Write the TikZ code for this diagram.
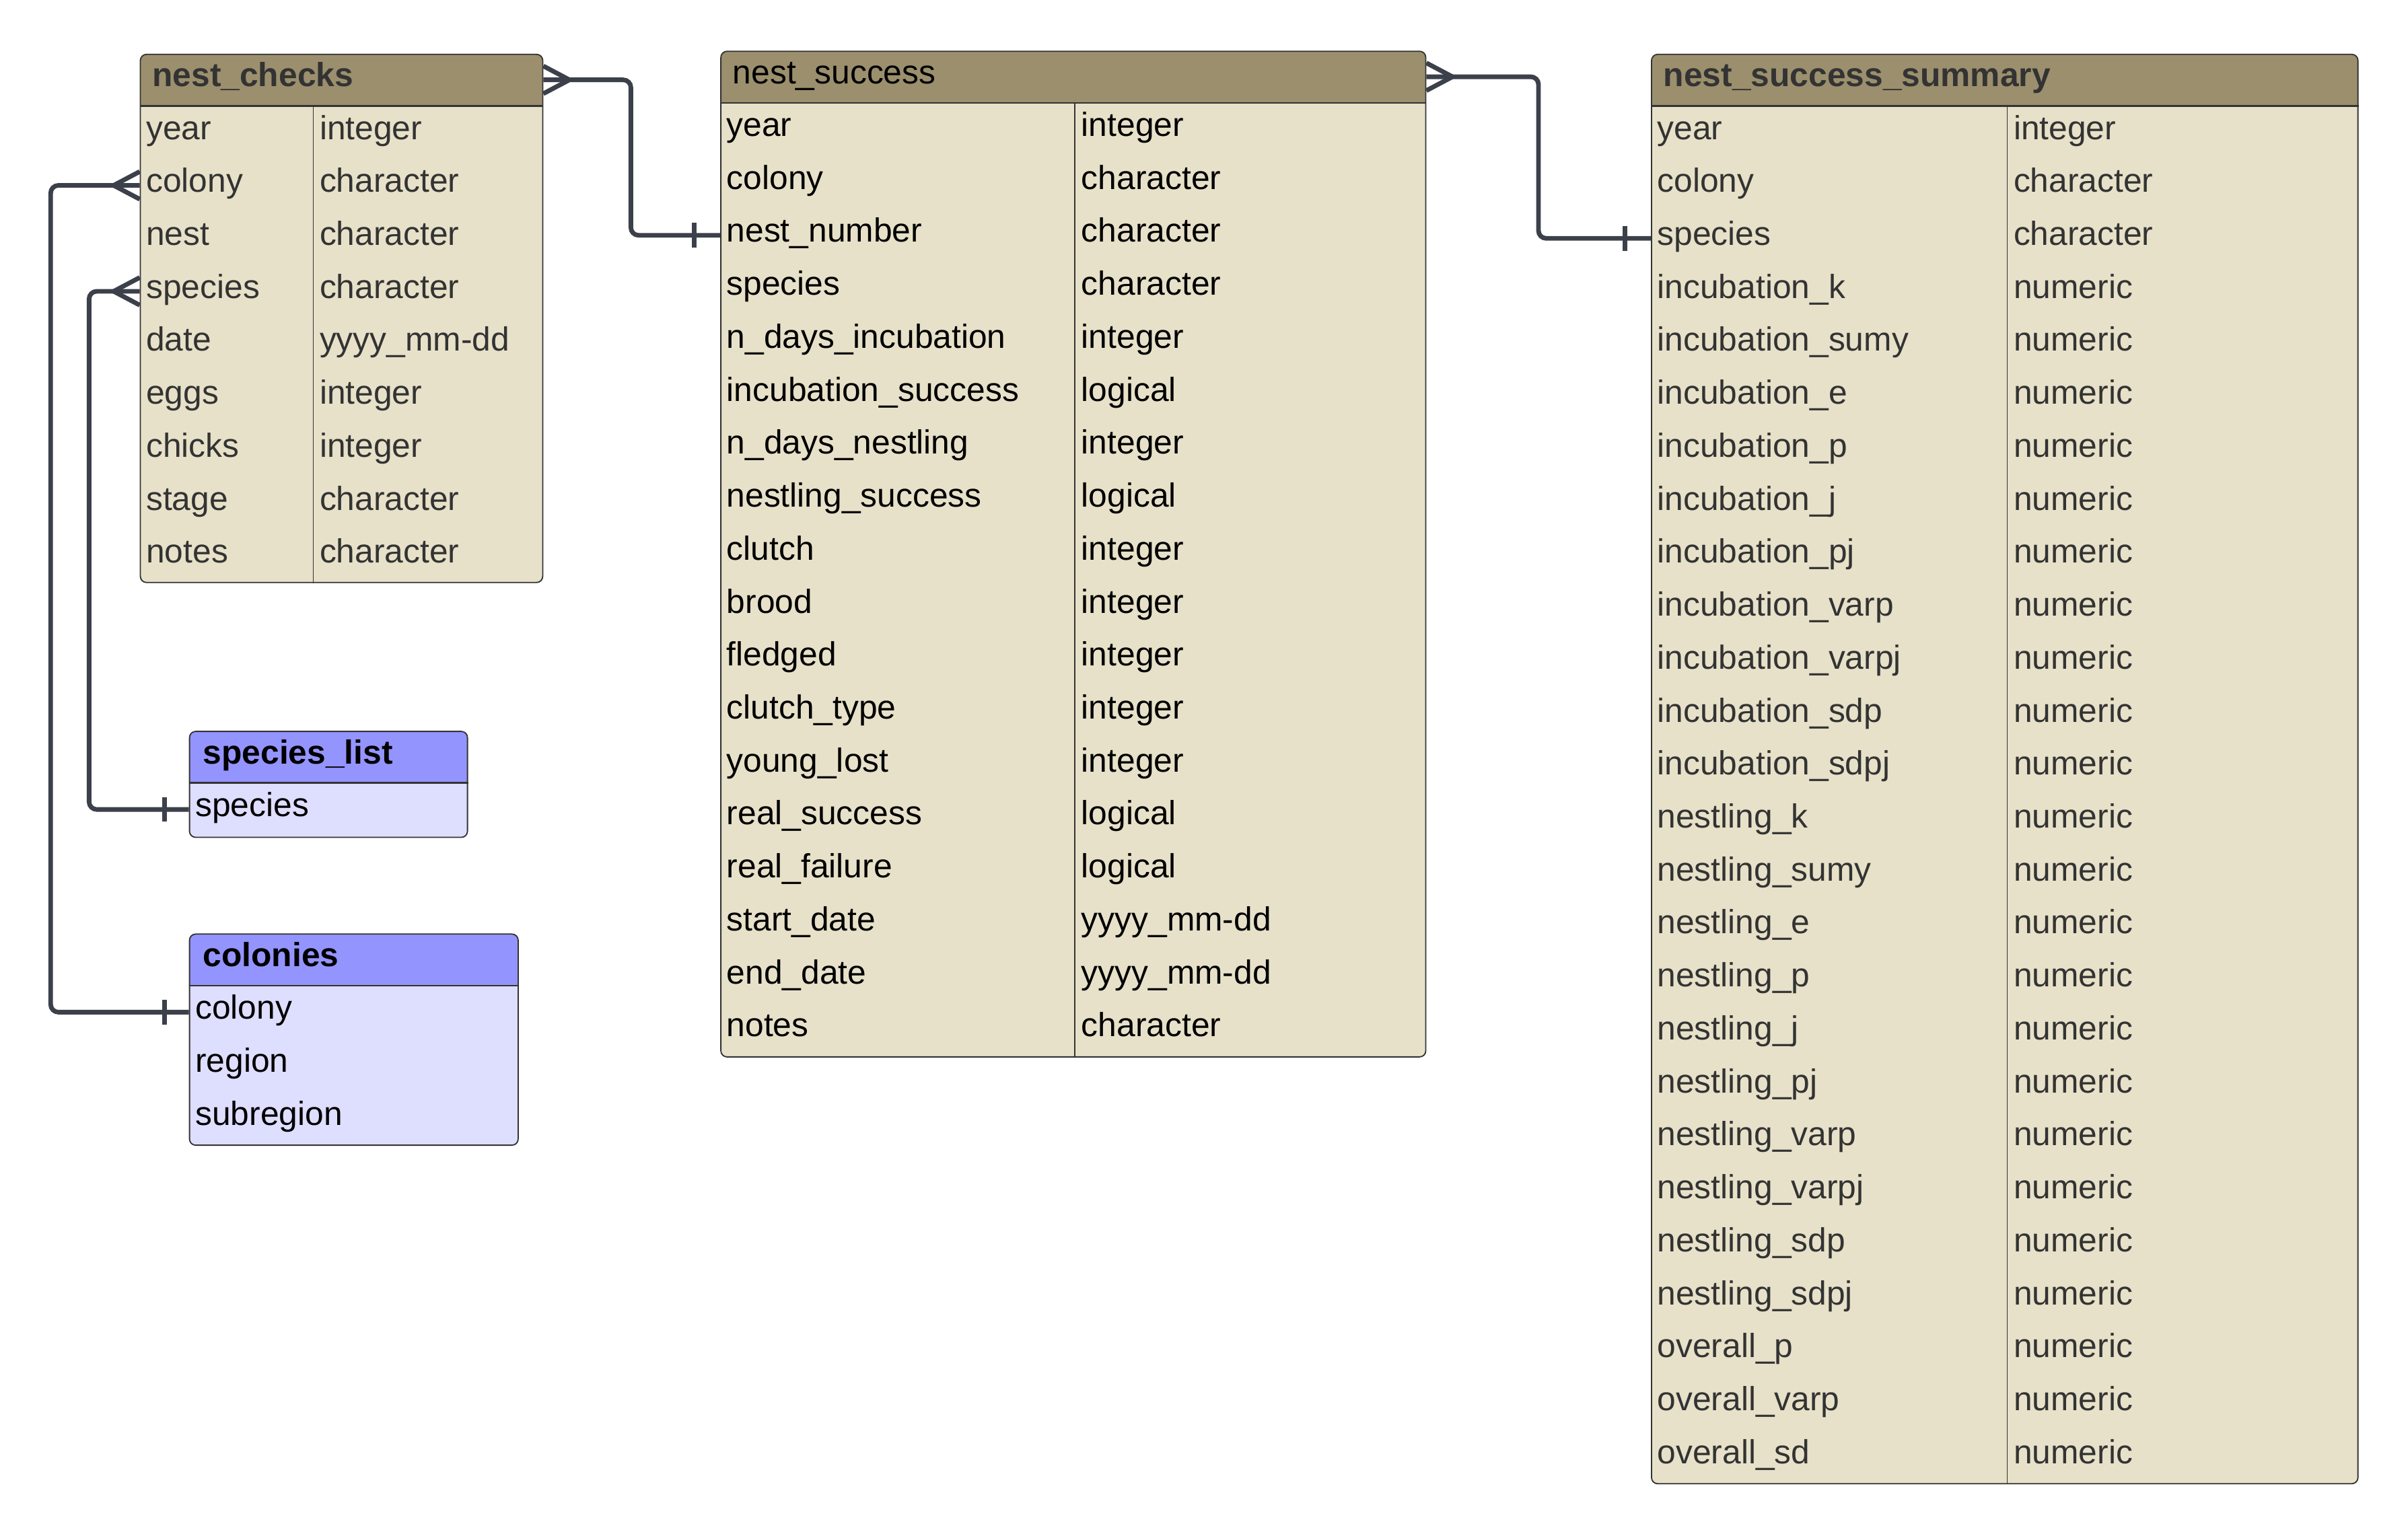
\documentclass[tikz,border=0pt]{standalone}
\usepackage{fontspec}
\setmainfont{Liberation Sans}

\definecolor{tanhead}{RGB}{155,143,109}
\definecolor{tanbody}{RGB}{231,225,201}
\definecolor{lilachead}{RGB}{148,148,255}
\definecolor{lilacbody}{RGB}{222,222,255}
\definecolor{edgegray}{RGB}{51,51,51}
\definecolor{linkgray}{RGB}{59,64,74}

\newcommand{\erfont}{\fontsize{21.8}{26}\selectfont}

\tikzset{
  tbl/.style 2 args={draw=edgegray, line width=0.8pt, fill=#2, rounded corners=4pt,
    anchor=north west, inner sep=0pt,
    path picture={\fill[#1, sharp corners] (path picture bounding box.north west)
      rectangle ([yshift=-34pt]path picture bounding box.north east);}},
  fld/.style={anchor=west, inner sep=0pt, text height=15pt, text depth=6pt, font=\erfont},
  ttl/.style={fld, font=\erfont\bfseries},
  sep/.style={draw=edgegray, line width=1.2pt},
  colline/.style={draw=edgegray, line width=0.8pt},
  rel/.style={draw=linkgray, line width=3pt, rounded corners=5pt},
  endmark/.style={draw=linkgray, line width=3pt}
}

\begin{document}
\begin{tikzpicture}[x=1pt, y=-1pt]
	\useasboundingbox (0,0) rectangle (1568,999);

	% nest_checks
	\node[tbl={tanhead}{tanbody}, minimum width=262pt, minimum height=344pt] (nc) at (91,35) {};
	\draw[sep] ([yshift=-34pt]nc.north west) -- ([yshift=-34pt]nc.north east);
	\draw[colline] ([xshift=113pt,yshift=-34pt]nc.north west) -- ([xshift=113pt]nc.south west);
	\node[ttl, text=edgegray] (nc-t) at (99,52) {nest\_checks};
	\foreach \f/\t [count=\i] in {year/integer, colony/character, nest/character, species/character,
		date/yyyy\_mm-dd, eggs/integer, chicks/integer, stage/character, notes/character} {
		\node[fld, text=edgegray] (nc-f\i) at (95, {51.75+34.5*\i}) {\f};
		\node[fld, text=edgegray] (nc-y\i) at (208, {51.75+34.5*\i}) {\t};
	}

	% nest_success
	\node[tbl={tanhead}{tanbody}, minimum width=459pt, minimum height=655pt] (ns) at (469,33) {};
	\draw[sep] ([yshift=-34pt]ns.north west) -- ([yshift=-34pt]ns.north east);
	\draw[colline] ([xshift=231pt,yshift=-34pt]ns.north west) -- ([xshift=231pt]ns.south west);
	\node[fld] (ns-t) at (477,50) {nest\_success};
	\foreach \f/\t [count=\i] in {year/integer, colony/character, nest\_number/character,
		species/character, n\_days\_incubation/integer, incubation\_success/logical,
		n\_days\_nestling/integer, nestling\_success/logical, clutch/integer, brood/integer,
		fledged/integer, clutch\_type/integer, young\_lost/integer, real\_success/logical,
		real\_failure/logical, start\_date/yyyy\_mm-dd, end\_date/yyyy\_mm-dd, notes/character} {
		\node[fld] (ns-f\i) at (473, {49.75+34.5*\i}) {\f};
		\node[fld] (ns-y\i) at (704, {49.75+34.5*\i}) {\t};
	}

	% nest_success_summary
	\node[tbl={tanhead}{tanbody}, minimum width=460pt, minimum height=931pt] (nss) at (1075,35) {};
	\draw[sep] ([yshift=-34pt]nss.north west) -- ([yshift=-34pt]nss.north east);
	\draw[colline] ([xshift=232pt,yshift=-34pt]nss.north west) -- ([xshift=232pt]nss.south west);
	\node[ttl, text=edgegray] (nss-t) at (1083,52) {nest\_success\_summary};
	\foreach \f/\t [count=\i] in {year/integer, colony/character, species/character} {
		\node[fld, text=edgegray] (nss-f\i) at (1079, {51.75+34.5*\i}) {\f};
		\node[fld, text=edgegray] (nss-y\i) at (1311, {51.75+34.5*\i}) {\t};
	}
	\foreach \f [count=\i from 4] in {incubation\_k, incubation\_sumy, incubation\_e, incubation\_p,
		incubation\_j, incubation\_pj, incubation\_varp, incubation\_varpj, incubation\_sdp,
		incubation\_sdpj, nestling\_k, nestling\_sumy, nestling\_e, nestling\_p, nestling\_j,
		nestling\_pj, nestling\_varp, nestling\_varpj, nestling\_sdp, nestling\_sdpj,
		overall\_p, overall\_varp, overall\_sd} {
		\node[fld, text=edgegray] (nss-f\i) at (1079, {51.75+34.5*\i}) {\f};
		\node[fld, text=edgegray] (nss-y\i) at (1311, {51.75+34.5*\i}) {numeric};
	}

	% species_list
	\node[tbl={lilachead}{lilacbody}, minimum width=181pt, minimum height=69pt] (sl) at (123,476) {};
	\draw[sep] ([yshift=-34pt]sl.north west) -- ([yshift=-34pt]sl.north east);
	\node[ttl] (sl-t) at (132,493) {species\_list};
	\node[fld] (sl-f1) at (127,527.25) {species};

	% colonies
	\node[tbl={lilachead}{lilacbody}, minimum width=214pt, minimum height=137.5pt] (col) at (123,608) {};
	\draw[sep] ([yshift=-34pt]col.north west) -- ([yshift=-34pt]col.north east);
	\node[ttl] (col-t) at (132,625) {colonies};
	\foreach \f [count=\i] in {colony, region, subregion}
		\node[fld] (col-f\i) at (127, {624.75+34.5*\i}) {\f};

	% relations
	\draw[rel] ([yshift=-17pt]nc.north east) -- ++(57,0) |- (ns.west |- ns-f3);
	\draw[endmark] ([yshift=-17pt]nc.north east) ++(0,-9) -- ++(17,9) -- ++(-17,9);
	\draw[endmark] (ns.west |- ns-f3) ++(-17,-8) -- ++(0,16);

	\draw[rel] ([yshift=-17pt]ns.north east) -- ++(73,0) |- (nss.west |- nss-f3);
	\draw[endmark] ([yshift=-17pt]ns.north east) ++(0,-9) -- ++(17,9) -- ++(-17,9);
	\draw[endmark] (nss.west |- nss-f3) ++(-17,-8) -- ++(0,16);

	\draw[rel] (nc.west |- nc-f2) -- ++(-58,0) |- (col.west |- col-f1);
	\draw[endmark] (nc.west |- nc-f2) ++(0,-9) -- ++(-17,9) -- ++(17,9);
	\draw[endmark] (col.west |- col-f1) ++(-16,-8) -- ++(0,16);

	\draw[rel] (nc.west |- nc-f4) -- ++(-33,0) |- (sl.west |- sl-f1);
	\draw[endmark] (nc.west |- nc-f4) ++(0,-9) -- ++(-17,9) -- ++(17,9);
	\draw[endmark] (sl.west |- sl-f1) ++(-16,-8) -- ++(0,16);
\end{tikzpicture}
\end{document}
